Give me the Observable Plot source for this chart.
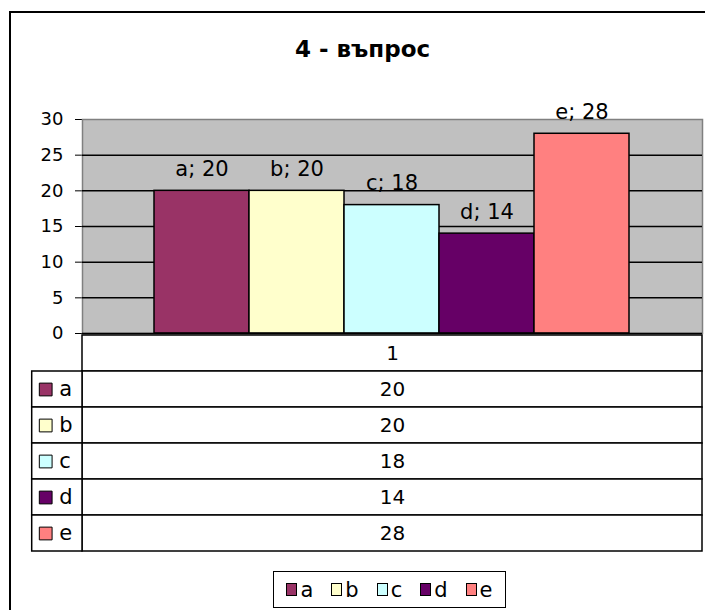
<!DOCTYPE html>
<html>
<head>
<meta charset="utf-8">
<script src="https://cdn.jsdelivr.net/npm/d3@7"></script>
<script src="https://cdn.jsdelivr.net/npm/@observablehq/plot@0.6"></script>
<style>
  html, body { margin: 0; padding: 0; background: white; overflow: hidden; }
  #wrap { position: relative; width: 705px; height: 610px; overflow: hidden; font-family: "DejaVu Sans", sans-serif; }
  #outer { position: absolute; left: 9px; top: 11px; width: 760px; height: 700px; border: 2px solid black; }
  #title { position: absolute; left: 0; width: 725px; top: 36px; text-align: center; font-weight: bold; font-size: 23px; color: black; }
  .layer { position: absolute; left: 0; top: 0; background: transparent !important; overflow: visible; }
  #legend { position: absolute; left: 273px; top: 571px; width: 231px; height: 35px; border: 1.5px solid black; background: white;
            display: flex; align-items: center; justify-content: center; gap: 18px; font-size: 21px; }
  #legend .item { display: flex; align-items: center; gap: 3px; }
  #legend .sw { width: 9px; height: 11px; border: 1px solid black; }
</style>
</head>
<body>
<div id="wrap">
  <div id="outer"></div>
  <div id="title"></div>
  <div id="legend"></div>
</div>
<script>
const title = "4 - въпрос";
const category = "1";
const series = ["a", "b", "c", "d", "e"];
const values = [20, 20, 18, 14, 28];
const colors = ["#993366", "#FFFFCC", "#CCFFFF", "#660066", "#FF8080"];
const yTicks = [0, 5, 10, 15, 20, 25, 30];

const data = series.map((s, i) => ({series: s, value: values[i], label: `${s}; ${values[i]}`}));
const tableRows = [{row: category, text: category}].concat(series.map((s, i) => ({row: s, text: String(values[i])})));
const keyRows = series.map(s => ({row: s}));
const rowDomain = [category].concat(series);

const wrap = document.getElementById("wrap");
document.getElementById("title").textContent = title;

const fontStyle = {fontFamily: "DejaVu Sans", fontSize: "18px", color: "black", background: "transparent", overflow: "visible"};

const chart = Plot.plot({
  width: 705, height: 372,
  marginTop: 119, marginBottom: 39, marginLeft: 82, marginRight: 3,
  style: fontStyle,
  x: {type: "band", domain: series, padding: 0, insetLeft: 71.3, insetRight: 72, axis: null},
  y: {domain: [0, 30], ticks: yTicks, tickSize: 7, tickPadding: 12, line: true, label: null},
  color: {domain: series, range: colors},
  marks: [
    Plot.frame({fill: "#C0C0C0", stroke: "#808080", strokeWidth: 1.5}),
    Plot.ruleY(yTicks.filter(t => t > 0 && t < 30), {stroke: "black", strokeWidth: 1.5}),
    Plot.barY(data, {x: "series", y: "value", fill: "series", stroke: "black", strokeWidth: 1.5}),
    Plot.text(data, {x: "series", y: "value", text: "label", lineAnchor: "bottom", dy: -15, fontSize: 21, fill: "black"}),
    Plot.ruleY([0], {stroke: "black", strokeWidth: 1.5})
  ]
});

const table = Plot.plot({
  width: 705, height: 610,
  marginTop: 333, marginBottom: 57.7, marginLeft: 82, marginRight: 3,
  style: fontStyle,
  y: {type: "band", domain: rowDomain, padding: 0, axis: null},
  marks: [
    Plot.cell(tableRows, {y: "row", fill: "white", stroke: "black", strokeWidth: 1.5}),
    Plot.text(tableRows, {y: "row", text: "text", fontSize: 20, fill: "black"})
  ]
});

const keys = Plot.plot({
  width: 82, height: 610,
  marginTop: 333, marginBottom: 57.7, marginLeft: 31.7, marginRight: 0,
  style: fontStyle,
  y: {type: "band", domain: rowDomain, padding: 0, axis: null},
  color: {domain: series, range: colors},
  marks: [
    Plot.cell(keyRows, {y: "row", fill: "white", stroke: "black", strokeWidth: 1.5}),
    Plot.dot(keyRows, {y: "row", frameAnchor: "left", dx: 13.5, symbol: "square", r: 7.2, fill: "row", stroke: "black", strokeWidth: 1}),
    Plot.text(keyRows, {y: "row", text: "row", frameAnchor: "left", dx: 27, textAnchor: "start", fontSize: 21, fill: "black"})
  ]
});

for (const svg of [chart, table, keys]) {
  svg.classList.add("layer");
  svg.style.background = "transparent";
  svg.style.maxWidth = "none";
  wrap.appendChild(svg);
}

const legend = document.getElementById("legend");
series.forEach((s, i) => {
  const item = document.createElement("div");
  item.className = "item";
  const sw = document.createElement("div");
  sw.className = "sw";
  sw.style.background = colors[i];
  const lab = document.createElement("span");
  lab.textContent = s;
  item.appendChild(sw);
  item.appendChild(lab);
  legend.appendChild(item);
});
wrap.appendChild(legend);
</script>
</body>
</html>
